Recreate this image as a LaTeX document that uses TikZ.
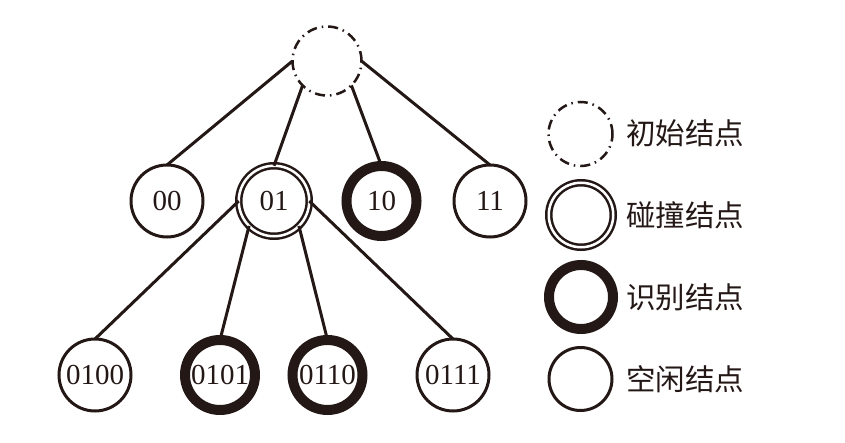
\documentclass[tikz,border=0pt]{standalone}
\usepackage{fontspec}
\setmainfont{Liberation Serif}
\newfontfamily\cjk{Noto Sans CJK SC}
\definecolor{ink}{HTML}{231815}
\begin{document}
\begin{tikzpicture}[x=1pt,y=-1pt,
  every node/.style={inner sep=0pt, outer sep=0pt},
  nd/.style={circle, draw=ink, line width=3pt, minimum size=72pt, text=ink,
             font=\fontsize{29}{29}\selectfont},
  thk/.style={nd, line width=10pt, minimum size=70pt},
  dbl/.style={nd, line width=2.5pt, double=white, double distance=2.5pt, minimum size=70.5pt},
  init/.style={nd, line width=2.5pt, dash pattern=on 10pt off 5pt on 1.5pt off 5pt, minimum size=69pt},
  edge/.style={draw=ink, line width=3pt},
  lab/.style={anchor=west, text=ink, font=\cjk\fontsize{29.5}{29.5}\selectfont}]
\useasboundingbox (0,0) rectangle (845,443);

% tree nodes
\node[init] (r) at (327,61) {};
\node[nd]  (n00) at (167,201) {00};
\node[dbl] (n01) at (274,201) {01};
\node[thk] (n10) at (381.5,201) {10};
\node[nd]  (n11) at (490,201) {11};
\node[nd]  (n0100) at (95,375) {0100};
\node[thk] (n0101) at (220,375) {0101};
\node[thk] (n0110) at (327.5,375) {0110};
\node[nd]  (n0111) at (453,375) {0111};

% edges
\draw[edge] (r.west) -- (n00.north);
\draw[edge] (r.south west) -- (n01.north);
\draw[edge] (r.south east) -- (n10.north);
\draw[edge] (r.east) -- (n11.north);
\draw[edge] (n01.west) -- (n0100.north);
\draw[edge] (n01.south west) -- (n0101.north);
\draw[edge] (n01.south east) -- (n0110.north);
\draw[edge] (n01.east) -- (n0111.north);

% legend
\node[init, minimum size=64pt] (l1) at (580.5,134) {};
\node[dbl, minimum size=64.5pt] (l2) at (581,215) {};
\node[thk, minimum size=64pt] (l3) at (581,297) {};
\node[nd, minimum size=63pt] (l4) at (580.5,379) {};
\node[lab] (t1) at (626,133) {初始结点};
\node[lab] (t2) at (626,215) {碰撞结点};
\node[lab] (t3) at (626,297) {识别结点};
\node[lab] (t4) at (626,379) {空闲结点};
\end{tikzpicture}
\end{document}
